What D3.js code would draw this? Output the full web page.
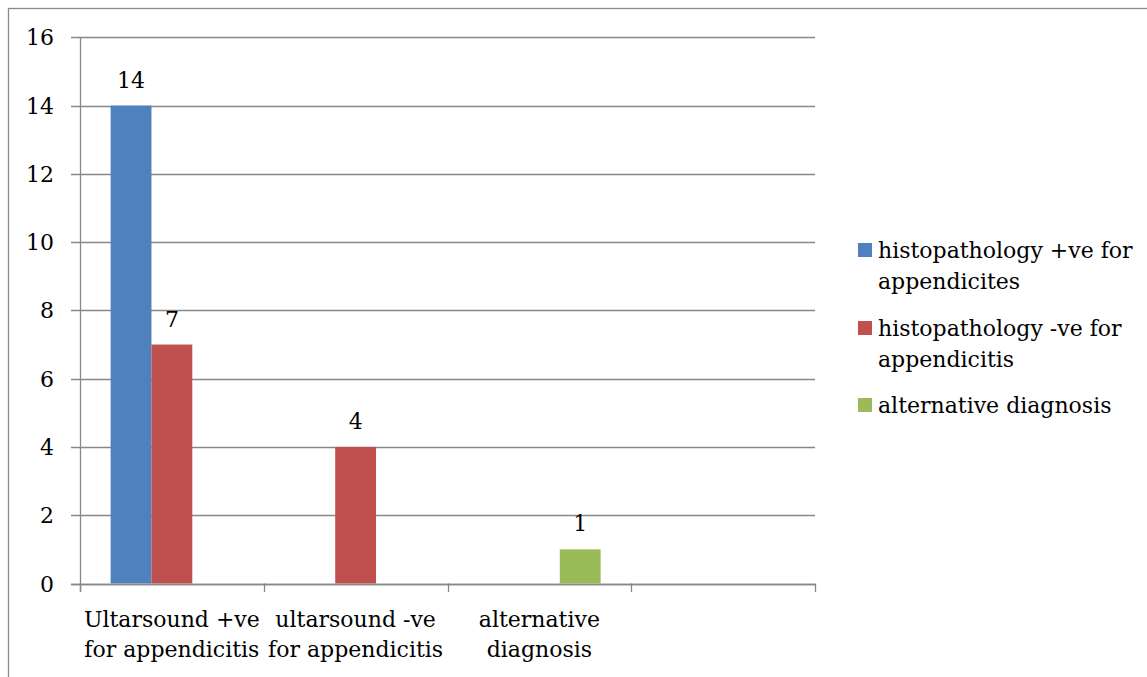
<!DOCTYPE html>
<html><head><meta charset="utf-8">
<script src="https://cdn.jsdelivr.net/npm/d3@7/dist/d3.min.js"></script>
<style>body{margin:0;background:#fff}svg{display:block}text{font-family:"DejaVu Serif",serif;fill:#000}</style>
</head><body>
<script>
const categories = [["Ultarsound +ve","for appendicitis"],["ultarsound -ve","for appendicitis"],["alternative","diagnosis"],[""]];
const seriesNames = [["histopathology +ve for","appendicites"],["histopathology -ve for","appendicitis"],["alternative diagnosis"]];
const seriesColors = ["#4F81BD","#C0504D","#9BBB59"];
// values[series][category]; null = no bar
const values = [
  [14, null, null, null],
  [7, 4, null, null],
  [null, null, 1, null]
];
const yTicks = [0,2,4,6,8,10,12,14,16];

(function(){
const W=1147,H=677;
const svg=d3.select("body").append("svg").attr("width",W).attr("height",H);
svg.append("rect").attr("x",8.5).attr("y",8.5).attr("width",W+20).attr("height",H+20)
  .attr("fill","none").attr("stroke","#8a8a8a").attr("stroke-width",1.3);

const pl=80,pr=815,pt=37.3,pb=583.5;
const x0=d3.scaleBand().domain(d3.range(categories.length)).range([pl,pr]).paddingInner(0).paddingOuter(0);
const bw=x0.bandwidth();
const x1=d3.scaleBand().domain(d3.range(seriesNames.length)).range([bw*0.75/4.5,bw-bw*0.75/4.5]).padding(0);
const y=d3.scaleLinear().domain([0,16]).range([pb,pt]);
const fs=22;

const g=svg.append("g");
g.selectAll("line.grid").data(yTicks).enter().append("line")
  .attr("x1",71).attr("x2",pr).attr("y1",d=>Math.round(y(d))+0.5).attr("y2",d=>Math.round(y(d))+0.5)
  .attr("stroke","#888").attr("stroke-width",1.3);
g.selectAll("text.yl").data(yTicks).enter().append("text")
  .attr("x",54).attr("y",d=>y(d)+8).attr("text-anchor","end").attr("font-size",fs).text(d=>d);

values.forEach((vals,s)=>{
  vals.forEach((v,c)=>{
    if(v==null) return;
    const bx=x0(c)+x1(s);
    g.append("rect").attr("x",bx).attr("y",y(v)).attr("width",x1.bandwidth()).attr("height",y(0)-y(v))
      .attr("fill",seriesColors[s]);
    g.append("text").attr("x",bx+x1.bandwidth()/2).attr("y",y(v)-18).attr("text-anchor","middle")
      .attr("font-size",fs).text(v);
  });
});

g.append("line").attr("x1",pl+0.5).attr("x2",pl+0.5).attr("y1",pt).attr("y2",592).attr("stroke","#888").attr("stroke-width",1.3);
g.append("line").attr("x1",71).attr("x2",pr).attr("y1",Math.round(pb)+0.5).attr("y2",Math.round(pb)+0.5).attr("stroke","#888").attr("stroke-width",1.3);
d3.range(categories.length+1).forEach(i=>{
  const xx=Math.round(pl+i*bw)+0.5;
  g.append("line").attr("x1",xx).attr("x2",xx).attr("y1",pb).attr("y2",592).attr("stroke","#888").attr("stroke-width",1.3);
});
categories.forEach((lines,c)=>{
  const t=g.append("text").attr("text-anchor","middle").attr("font-size",fs);
  lines.forEach((ln,i)=>t.append("tspan").attr("x",x0(c)+bw/2).attr("y",627+i*30).text(ln));
});

const legY=[258,336,413];
seriesNames.forEach((lines,s)=>{
  svg.append("rect").attr("x",858).attr("y",legY[s]-15).attr("width",14).attr("height",14).attr("fill",seriesColors[s]);
  const t=svg.append("text").attr("font-size",fs);
  lines.forEach((ln,i)=>t.append("tspan").attr("x",878).attr("y",legY[s]+i*31).text(ln));
});
})();
</script>
</body></html>
